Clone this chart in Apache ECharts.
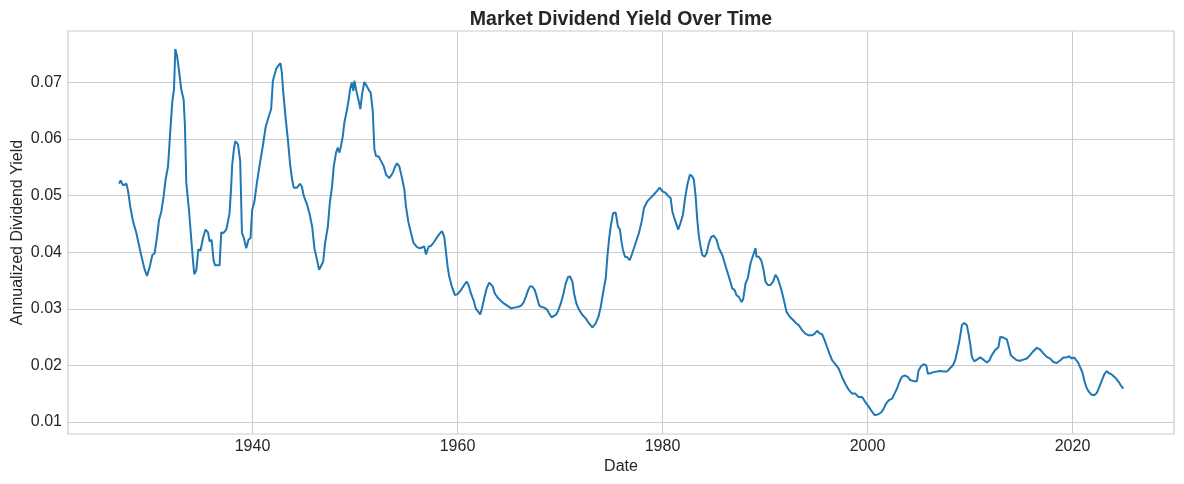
<!DOCTYPE html>
<html>
<head>
<meta charset="utf-8">
<script src="https://cdn.jsdelivr.net/npm/echarts@6/dist/echarts.min.js"></script>
<style>
html,body{margin:0;padding:0;background:#fff;}
#chart{width:1184px;height:484px;}
</style>
</head>
<body>
<div id="chart"></div>
<script>
var years = [
1926.99,1927.14,1927.37,1927.70,1927.86,1928.09,1928.35,1928.67,1928.99,1929.25,1929.48,1929.71,1929.97,1930.23,1930.45,1930.69,1930.88,1931.11,1931.33,1931.52,1931.76,1931.98,1932.18,1932.34,1932.47,1932.64,1932.83,1933.05,1933.28,1933.41,1933.54,1933.80,1934.03,1934.19,1934.32,1934.52,1934.71,1934.93,1935.17,1935.42,1935.66,1935.81,1936.01,1936.20,1936.34,1936.79,1936.95,1937.17,1937.44,1937.54,1937.76,1937.92,1938.02,1938.19,1938.31,1938.58,1938.80,1938.97,1939.16,1939.39,1939.61,1939.81,1939.97,1940.19,1940.43,1940.68,1941.01,1941.27,1941.50,1941.82,1941.99,1942.14,1942.31,1942.53,1942.73,1942.86,1942.99,1943.21,1943.45,1943.67,1943.87,1944.03,1944.35,1944.62,1944.81,1945.01,1945.33,1945.59,1945.82,1946.04,1946.30,1946.50,1946.69,1946.89,1947.08,1947.35,1947.54,1947.76,1947.93,1948.15,1948.32,1948.48,1948.64,1948.81,1948.96,1949.20,1949.39,1949.52,1949.68,1949.84,1949.94,1950.17,1950.37,1950.52,1950.69,1950.91,1951.14,1951.34,1951.53,1951.73,1951.89,1952.05,1952.31,1952.54,1952.80,1953.03,1953.35,1953.68,1953.93,1954.10,1954.32,1954.55,1954.81,1954.97,1955.20,1955.46,1955.72,1956.05,1956.34,1956.53,1956.76,1956.92,1957.19,1957.41,1957.67,1957.96,1958.22,1958.48,1958.70,1958.87,1959.04,1959.19,1959.45,1959.75,1960.01,1960.33,1960.65,1960.89,1961.08,1961.31,1961.57,1961.79,1962.02,1962.21,1962.38,1962.60,1962.84,1963.09,1963.25,1963.42,1963.64,1963.91,1964.23,1964.55,1964.88,1965.20,1965.52,1965.86,1966.18,1966.44,1966.66,1966.89,1967.08,1967.32,1967.54,1967.74,1967.96,1968.19,1968.45,1968.71,1968.93,1969.17,1969.36,1969.59,1969.81,1970.07,1970.34,1970.56,1970.78,1970.98,1971.21,1971.37,1971.60,1971.86,1972.19,1972.51,1972.83,1973.16,1973.48,1973.75,1973.97,1974.19,1974.46,1974.62,1974.78,1974.94,1975.17,1975.43,1975.66,1975.85,1975.99,1976.14,1976.34,1976.57,1976.80,1976.99,1977.21,1977.48,1977.70,1977.96,1978.19,1978.52,1978.84,1979.16,1979.49,1979.72,1979.98,1980.30,1980.57,1980.79,1980.96,1981.21,1981.54,1981.76,1981.99,1982.18,1982.42,1982.67,1982.90,1983.06,1983.23,1983.39,1983.55,1983.71,1983.88,1984.10,1984.30,1984.52,1984.75,1985.01,1985.27,1985.50,1985.83,1986.08,1986.31,1986.57,1986.80,1987.03,1987.22,1987.44,1987.71,1987.87,1988.10,1988.32,1988.58,1988.85,1989.07,1989.17,1989.39,1989.62,1989.82,1990.04,1990.27,1990.53,1990.79,1991.02,1991.24,1991.51,1991.77,1992.09,1992.41,1992.74,1993.06,1993.29,1993.62,1993.94,1994.26,1994.59,1994.85,1995.08,1995.30,1995.57,1995.82,1996.06,1996.28,1996.54,1996.86,1997.19,1997.52,1997.84,1998.16,1998.49,1998.81,1999.13,1999.47,1999.79,2000.11,2000.37,2000.69,2001.02,2001.35,2001.57,2001.80,2002.06,2002.39,2002.64,2002.88,2003.10,2003.36,2003.68,2003.95,2004.17,2004.49,2004.82,2004.98,2005.21,2005.47,2005.73,2005.89,2006.12,2006.44,2006.77,2007.09,2007.41,2007.75,2008.00,2008.33,2008.55,2008.78,2008.97,2009.21,2009.43,2009.69,2009.85,2010.02,2010.18,2010.41,2010.67,2010.99,2011.31,2011.64,2011.90,2012.13,2012.45,2012.77,2012.94,2013.26,2013.59,2013.75,2013.98,2014.23,2014.56,2014.89,2015.21,2015.54,2015.86,2016.18,2016.51,2016.83,2017.16,2017.49,2017.81,2018.13,2018.46,2018.62,2018.88,2019.11,2019.44,2019.69,2019.92,2020.18,2020.31,2020.51,2020.73,2020.96,2021.15,2021.38,2021.61,2021.87,2022.12,2022.36,2022.58,2022.85,2023.10,2023.33,2023.56,2023.82,2024.07,2024.31,2024.53,2024.73,2024.95
];
var dividendYield = [
0.0521,0.0527,0.0518,0.0521,0.0508,0.0479,0.0454,0.0434,0.0407,0.0386,0.0369,0.0358,0.0374,0.0395,0.0398,0.0428,0.0457,0.0472,0.0499,0.0528,0.0552,0.0614,0.0667,0.0688,0.0759,0.0747,0.0721,0.0688,0.0670,0.0623,0.0523,0.0475,0.0422,0.0386,0.0361,0.0368,0.0405,0.0403,0.0425,0.0440,0.0435,0.0419,0.0422,0.0386,0.0377,0.0377,0.0435,0.0434,0.0440,0.0448,0.0469,0.0516,0.0555,0.0582,0.0596,0.0591,0.0561,0.0434,0.0425,0.0407,0.0422,0.0425,0.0475,0.0490,0.0523,0.0552,0.0588,0.0620,0.0635,0.0653,0.0703,0.0706,0.0724,0.0730,0.0734,0.0718,0.0685,0.0641,0.0599,0.0555,0.0528,0.0514,0.0514,0.0521,0.0516,0.0499,0.0484,0.0466,0.0445,0.0407,0.0386,0.0369,0.0369,0.0383,0.0416,0.0445,0.0487,0.0516,0.0552,0.0576,0.0585,0.0576,0.0588,0.0605,0.0629,0.0650,0.0670,0.0688,0.0700,0.0685,0.0703,0.0682,0.0667,0.0653,0.0679,0.0701,0.0694,0.0687,0.0682,0.0650,0.0582,0.0570,0.0569,0.0561,0.0552,0.0537,0.0531,0.0540,0.0552,0.0557,0.0552,0.0534,0.0511,0.0481,0.0454,0.0434,0.0416,0.0409,0.0407,0.0404,0.0410,0.0396,0.0410,0.0411,0.0417,0.0425,0.0432,0.0437,0.0428,0.0401,0.0374,0.0357,0.0339,0.0324,0.0326,0.0333,0.0342,0.0348,0.0342,0.0327,0.0315,0.0300,0.0295,0.0290,0.0300,0.0318,0.0336,0.0346,0.0348,0.0340,0.0327,0.0320,0.0314,0.0309,0.0305,0.0301,0.0302,0.0303,0.0305,0.0311,0.0321,0.0333,0.0340,0.0339,0.0333,0.0321,0.0306,0.0303,0.0302,0.0299,0.0292,0.0285,0.0283,0.0289,0.0296,0.0309,0.0327,0.0345,0.0356,0.0357,0.0348,0.0327,0.0309,0.0298,0.0289,0.0283,0.0274,0.0267,0.0274,0.0286,0.0303,0.0327,0.0354,0.0392,0.0422,0.0445,0.0469,0.0470,0.0445,0.0440,0.0419,0.0404,0.0392,0.0391,0.0386,0.0395,0.0407,0.0422,0.0434,0.0454,0.0478,0.0490,0.0496,0.0502,0.0509,0.0514,0.0508,0.0505,0.0499,0.0496,0.0472,0.0457,0.0440,0.0452,0.0466,0.0493,0.0519,0.0537,0.0534,0.0528,0.0499,0.0457,0.0428,0.0410,0.0395,0.0392,0.0398,0.0416,0.0427,0.0429,0.0422,0.0407,0.0395,0.0380,0.0366,0.0351,0.0336,0.0333,0.0324,0.0321,0.0312,0.0317,0.0345,0.0354,0.0380,0.0395,0.0407,0.0392,0.0392,0.0386,0.0372,0.0348,0.0342,0.0342,0.0348,0.0360,0.0354,0.0339,0.0321,0.0295,0.0286,0.0280,0.0274,0.0271,0.0262,0.0256,0.0253,0.0253,0.0256,0.0261,0.0257,0.0255,0.0244,0.0232,0.0221,0.0209,0.0202,0.0194,0.0179,0.0167,0.0157,0.0150,0.0150,0.0144,0.0144,0.0135,0.0127,0.0120,0.0112,0.0113,0.0117,0.0123,0.0132,0.0138,0.0141,0.0150,0.0159,0.0170,0.0180,0.0182,0.0179,0.0174,0.0172,0.0172,0.0191,0.0198,0.0202,0.0200,0.0185,0.0186,0.0188,0.0189,0.0190,0.0189,0.0189,0.0194,0.0200,0.0209,0.0227,0.0244,0.0271,0.0275,0.0271,0.0256,0.0238,0.0215,0.0207,0.0210,0.0214,0.0210,0.0205,0.0209,0.0218,0.0227,0.0232,0.0250,0.0249,0.0246,0.0235,0.0218,0.0214,0.0209,0.0208,0.0210,0.0212,0.0218,0.0225,0.0231,0.0228,0.0221,0.0215,0.0212,0.0206,0.0204,0.0202,0.0210,0.0214,0.0214,0.0216,0.0212,0.0214,0.0210,0.0206,0.0197,0.0188,0.0173,0.0160,0.0153,0.0148,0.0147,0.0151,0.0160,0.0173,0.0184,0.0190,0.0186,0.0184,0.0180,0.0175,0.0170,0.0164,0.0159
];
var xTicks = [1940, 1960, 1980, 2000, 2020];
var yTicks = [0.01, 0.02, 0.03, 0.04, 0.05, 0.06, 0.07];

var seriesData = years.map(function (y, i) { return [y, dividendYield[i]]; });
var FONT = "'Liberation Sans', Arial, sans-serif";
var chart = echarts.init(document.getElementById('chart'), null, {renderer: 'canvas'});
chart.setOption({
  animation: false,
  backgroundColor: '#ffffff',
  title: {
    text: 'Market Dividend Yield Over Time',
    left: 616, top: 5, textAlign: 'center',
    textStyle: {fontFamily: FONT, fontSize: 19.5, fontWeight: 'bold', color: '#262626'}
  },
  grid: {left: 68, right: 10, top: 31, bottom: 50, show: true, borderColor: '#cccccc', borderWidth: 1.2, containLabel: false, outerBoundsMode: 'none'},
  xAxis: {
    type: 'value', min: 1922.0, max: 2029.9,
    name: 'Date', nameLocation: 'middle', nameGap: 25, nameMoveOverlap: false,
    nameTextStyle: {fontFamily: FONT, fontSize: 16, color: '#262626'},
    axisLine: {show: false}, axisTick: {show: false, customValues: xTicks},
    axisLabel: {customValues: xTicks, fontFamily: FONT, fontSize: 16, color: '#262626', margin: 5, formatter: function (v) { return String(v); }},
    splitLine: {show: true, customValues: xTicks, lineStyle: {color: '#cccccc', width: 1}}
  },
  yAxis: {
    type: 'value', min: 0.00786, max: 0.0791,
    name: 'Annualized Dividend Yield', nameLocation: 'middle', nameGap: 42, nameMoveOverlap: false,
    nameTextStyle: {fontFamily: FONT, fontSize: 16, color: '#262626'},
    axisLine: {show: false}, axisTick: {show: false, customValues: yTicks},
    axisLabel: {customValues: yTicks, fontFamily: FONT, fontSize: 16, color: '#262626', margin: 6, formatter: function (v) { return v.toFixed(2); }},
    splitLine: {show: true, customValues: yTicks, lineStyle: {color: '#cccccc', width: 1}}
  },
  series: [{
    type: 'line', data: seriesData, showSymbol: false, symbol: 'none',
    lineStyle: {color: '#1f77b4', width: 2}, itemStyle: {color: '#1f77b4'}
  }]
});
</script>
</body>
</html>
